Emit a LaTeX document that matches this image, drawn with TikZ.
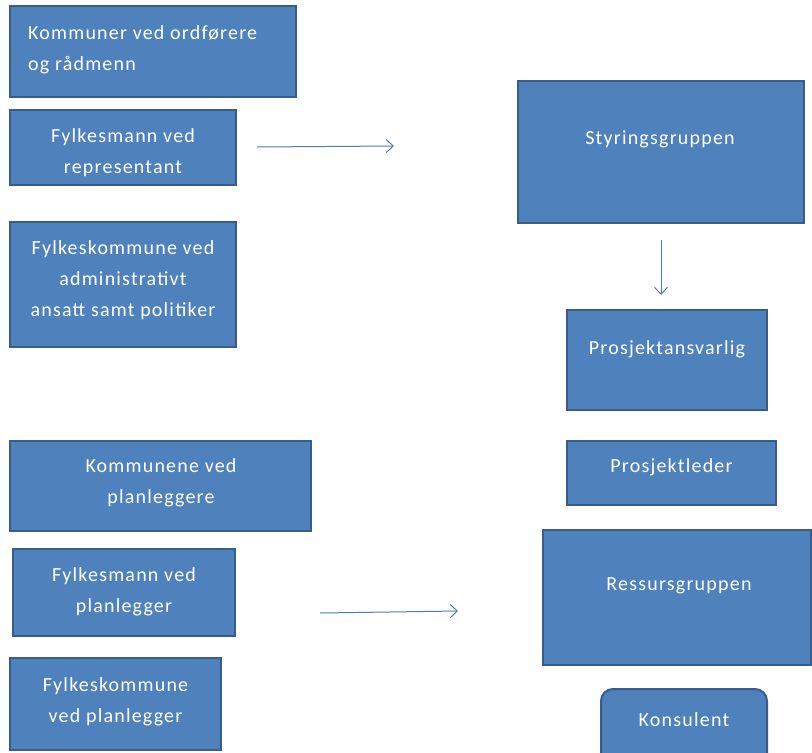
\documentclass[tikz,border=0pt]{standalone}
\usepackage{fontspec}
\setmainfont{Carlito}[LetterSpace=6]
\usetikzlibrary{arrows.meta}
\definecolor{boxfill}{HTML}{4F81BD}
\definecolor{boxline}{HTML}{385D8A}
\definecolor{arrowc}{HTML}{4A7EBB}
\begin{document}
\begin{tikzpicture}[x=1pt,y=-1pt,
  box/.style={draw=boxline,line width=2pt,fill=boxfill,inner sep=0pt},
  lbl/.style={text=white,font=\fontsize{20}{31}\selectfont,align=center,inner sep=0pt},
  conn/.style={draw=arrowc,line width=1pt,-{Straight Barb[length=7pt,width=13pt]}}]
\useasboundingbox (0,0) rectangle (812,753);
\clip (0,0) rectangle (812,753);
% left column
\node[box,minimum width=286pt,minimum height=91pt] (b1) at (153,51.5) {};
\node[lbl,align=left,anchor=north west] (t1) at (28,25) {Kommuner ved ordførere\\og rådmenn};
\node[box,minimum width=226pt,minimum height=75pt] (b2) at (123,147.5) {};
\node[lbl] (t2) at (123,153) {Fylkesmann ved\\representant};
\node[box,minimum width=226pt,minimum height=125pt] (b3) at (123,284.5) {};
\node[lbl] (t3) at (123,280) {Fylkeskommune ved\\administrativt\\ansatt samt politiker};
\node[box,minimum width=301pt,minimum height=90pt] (b4) at (160.5,486) {};
\node[lbl] (t4) at (161,482.5) {Kommunene ved\\planleggere};
\node[box,minimum width=222pt,minimum height=87pt] (b5) at (124,592.5) {};
\node[lbl] (t5) at (124,591.5) {Fylkesmann ved\\planlegger};
\node[box,minimum width=211pt,minimum height=92pt] (b6) at (115.5,704) {};
\node[lbl] (t6) at (115.5,702) {Fylkeskommune\\ved planlegger};
% right column
\node[box,minimum width=286pt,minimum height=142pt] (s) at (661,152) {};
\node[lbl] (ts) at (660,139) {Styringsgruppen};
\node[box,minimum width=200pt,minimum height=100pt] (pa) at (667,360) {};
\node[lbl] (tpa) at (667,349) {Prosjektansvarlig};
\node[box,minimum width=209pt,minimum height=64pt] (pl) at (671.5,473) {};
\node[lbl] (tpl) at (671.5,467) {Prosjektleder};
\node[box,minimum width=268pt,minimum height=135pt] (r) at (677,597.5) {};
\node[lbl] (tr) at (679,586) {Ressursgruppen};
\node[box,rounded corners=12pt,minimum width=166pt,minimum height=80pt] (k) at (684,729) {};
\node[lbl] (tk) at (684,720) {Konsulent};
% arrows
\coordinate (a1s) at (257,147); \coordinate (a1e) at (394,146);
\coordinate (a2s) at (661,240); \coordinate (a2e) at (661,295);
\coordinate (a3s) at (320,613); \coordinate (a3e) at (458,611);
\draw[conn] (a1s) -- (a1e);
\draw[conn] (a2s) -- (a2e);
\draw[conn] (a3s) -- (a3e);
\end{tikzpicture}
\end{document}
